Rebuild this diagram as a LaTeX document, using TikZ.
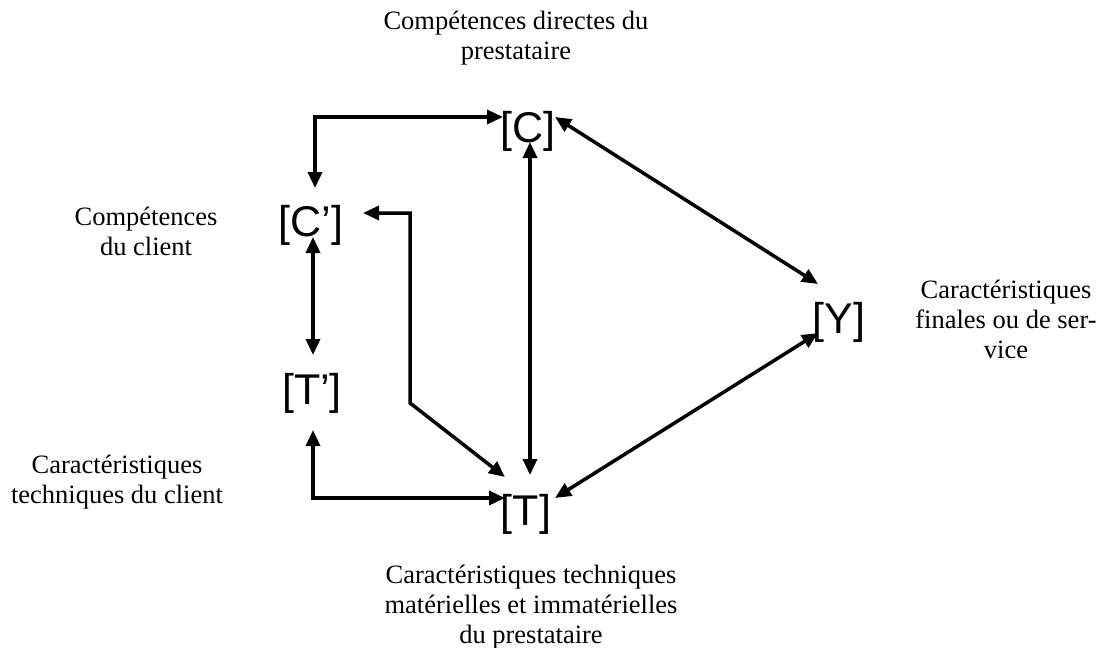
\documentclass[tikz,border=0pt]{standalone}
\usepackage{fontspec}
\setmainfont{Liberation Serif}
\newfontfamily\arialfont{Liberation Sans}
\usetikzlibrary{arrows.meta}
\begin{document}
\begin{tikzpicture}[x=1pt,y=-1pt,
  lbl/.style={inner sep=0pt,font=\arialfont\fontsize{43}{48}\selectfont},
  txt/.style={inner sep=0pt,align=center,font=\fontsize{26.5}{30}\selectfont},
  dbl/.style={line width=3.5pt,{Triangle[length=16pt,width=14pt]}-{Triangle[length=16pt,width=14pt]}}]
\useasboundingbox (0,0) rectangle (1104,648);
% labels
\node[lbl] (C)  at (528,131) {[C]};
\node[lbl] (Cp) at (311,225) {[C’]};
\node[lbl] (Tp) at (312,393) {[T’]};
\node[lbl] (T)  at (526,514) {[T]};
\node[lbl] (Y)  at (839,322) {[Y]};
% descriptions
\node[txt] (dC)  at (516,38)  {Compétences directes du\\prestataire};
\node[txt] (dCp) at (146,231) {Compétences\\du client};
\node[txt] (dTp) at (117,482) {Caractéristiques\\techniques du client};
\node[txt] (dY)  at (1006,319) {Caractéristiques\\finales ou de ser-\\vice};
\node[txt] (dT)  at (531,607) {Caractéristiques techniques\\matérielles et immatérielles\\du prestataire};
% connectors
\draw[dbl] ([shift={(4,-37)}]Cp.center) |- ([shift={(-25,-14)}]C.center);
\draw[dbl] ([shift={(2,11)}]C.center) -- ([shift={(4,-39)}]T.center);
\draw[dbl] ([shift={(27,-14)}]C.center) -- ([shift={(-21,-38)}]Y.center);
\draw[dbl] ([shift={(29,-16)}]T.center) -- ([shift={(-21,11)}]Y.center);
\draw[dbl] ([shift={(2,12)}]Cp.center) -- ([shift={(1,-38)}]Tp.center);
\draw[dbl] ([shift={(1,37)}]Tp.center) |- ([shift={(-21,-16)}]T.center);
\draw[dbl] ([shift={(52,-12)}]Cp.center) -- ++(47,0) -- ++(0,190) -- ([shift={(-21,-37)}]T.center);
\end{tikzpicture}
\end{document}
